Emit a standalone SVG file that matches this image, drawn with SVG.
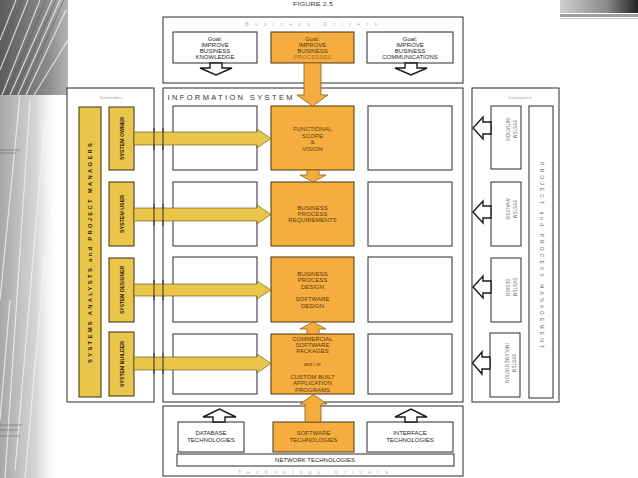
<svg xmlns="http://www.w3.org/2000/svg" width="638" height="478" viewBox="0 0 638 478">
<defs>
<style>
.frame{fill:#fff;stroke:#2a2a2a;stroke-width:1}
.line{fill:none;stroke:#2a2a2a;stroke-width:1}
.box{fill:#fff;stroke:#2a2a2a;stroke-width:1}
.orange{fill:#F6AD3F;stroke:#4a3515;stroke-width:1}
.yellow{fill:#E9C64B;stroke:#3a3010;stroke-width:1}
.hollow{fill:#fff;stroke:#1a1a1a;stroke-width:1.4;stroke-linejoin:miter}
.oarrow{fill:#F6AD3F;stroke:#8a5a15;stroke-width:0.8}
.yarrow{fill:#E9C64B;stroke:#5a4a10;stroke-width:0.6}
text{font-family:"Liberation Sans",Arial,sans-serif;text-anchor:middle}
.t{font-size:6px;fill:#262626}
.to{font-size:6px;fill:#5a3a10}
.tr{font-size:5.2px;font-weight:bold;fill:#2a2410}
.tg{font-size:4.5px;fill:#6a6a6a}
.tl{font-size:5.5px;fill:#b8b8b8}
.ts{font-size:4px;fill:#aaa}
</style>
<linearGradient id="gTop" x1="0" y1="0" x2="1" y2="0">
<stop offset="0" stop-color="#5c5c5c"/>
<stop offset="0.7" stop-color="#8a8a8a"/>
<stop offset="1" stop-color="#b5b5b5"/>
</linearGradient>
<linearGradient id="gLow" x1="0" y1="0" x2="1" y2="0">
<stop offset="0" stop-color="#a8a8a8"/>
<stop offset="0.6" stop-color="#d6d6d6"/>
<stop offset="1" stop-color="#ffffff" stop-opacity="0"/>
</linearGradient>
<linearGradient id="gTR" x1="0" y1="0" x2="1" y2="0">
<stop offset="0" stop-color="#cfcfcf"/>
<stop offset="0.6" stop-color="#8a8a8a"/>
<stop offset="1" stop-color="#222"/>
</linearGradient>
</defs>

<g id="background">
<rect x="0" y="0" width="638" height="478" fill="#fff"/>
<rect x="0" y="95" width="60" height="383" fill="url(#gLow)"/>
<rect x="0" y="0" width="68" height="95" fill="url(#gTop)"/>
<g stroke="#f2f2f2" stroke-width="1.2" opacity="0.8" fill="none">
<path d="M2 95 L40 0 M10 95 L52 0 M18 95 L60 0 M26 95 L66 10 M34 95 L68 40 M0 70 L28 0 M0 40 L16 0"/>
<path d="M5 478 L30 100 M15 470 L45 120 M0 300 L20 95 M25 478 L50 200 M0 420 L10 300"/>
</g>
<g stroke="#555" stroke-width="0.8" opacity="0.6" fill="none">
<path d="M6 95 L46 0 M14 95 L56 0 M22 95 L64 0 M0 55 L22 0"/>
<path d="M0 150 L20 150 M0 153 L16 153 M0 425 L22 425 M0 430 L18 430 M0 436 L20 436"/>
</g>
<rect x="560" y="0" width="78" height="13" fill="url(#gTR)"/>
<rect x="560" y="14" width="78" height="3" fill="#a0a0a0"/>
<rect x="560" y="18" width="78" height="1" fill="#c8c8c8"/>
</g>

<text x="313" y="6" class="t" style="font-size:5.5px;fill:#444" textLength="40" lengthAdjust="spacingAndGlyphs">FIGURE 2.5</text>

<g id="business-drivers">
<rect class="frame" x="163" y="17" width="300" height="66"/>
<text x="311" y="26" class="tl" textLength="132" lengthAdjust="spacing">Business Drivers</text>
</g>
<g id="goal-knowledge">
<rect class="box" x="173" y="32" width="84" height="31"/>
<text class="t" x="215" y="41">Goal:</text>
<text class="t" x="215" y="47">IMPROVE</text>
<text class="t" x="215" y="53">BUSINESS</text>
<text class="t" x="215" y="59">KNOWLEDGE</text>
</g>
<g id="goal-processes">
<rect class="orange" x="271" y="32" width="83" height="31"/>
<text class="to" x="312.5" y="41">Goal:</text>
<text class="to" x="312.5" y="47">IMPROVE</text>
<text class="to" x="312.5" y="53">BUSINESS</text>
<text class="to" x="312.5" y="59" style="fill:#b06a18">PROCESSES</text>
</g>
<g id="goal-communications">
<rect class="box" x="367" y="32" width="86" height="31"/>
<text class="t" x="410" y="41">Goal:</text>
<text class="t" x="410" y="47">IMPROVE</text>
<text class="t" x="410" y="53">BUSINESS</text>
<text class="t" x="410" y="59">COMMUNICATIONS</text>
</g>

<g id="stakeholders">
<rect class="frame" x="67" y="88" width="87" height="314"/>
<text x="111" y="99" class="ts">Stakeholders</text>
</g>
<g id="information-system">
<rect class="frame" x="163" y="88" width="300" height="314"/>
<text x="230" y="100" style="font-size:7.5px;fill:#333" textLength="125" lengthAdjust="spacing">INFORMATION SYSTEM</text>
</g>
<g id="development">
<rect class="frame" x="472" y="88" width="87" height="314"/>
<text x="520" y="99" class="ts">Development</text>
</g>
<g id="technology-drivers">
<rect class="frame" x="163" y="406" width="300" height="70"/>
<text x="313" y="474" class="tl" textLength="150" lengthAdjust="spacing">Technology Drivers</text>
</g>

<g id="analysts-bar">
<rect class="yellow" x="79" y="107" width="22" height="290"/>
<text class="tr" transform="translate(90,253) rotate(-90)" y="2" style="font-size:5.8px" textLength="220" lengthAdjust="spacing">SYSTEMS ANALYSTS and PROJECT MANAGERS</text>
</g>
<g id="system-owner">
<rect class="yellow" x="109" y="107" width="25" height="63"/>
<text class="tr" transform="translate(121.5,138.5) rotate(-90)" y="2" textLength="43" lengthAdjust="spacingAndGlyphs">SYSTEM OWNER</text>
</g>
<g id="system-user">
<rect class="yellow" x="109" y="182" width="25" height="64"/>
<text class="tr" transform="translate(121.5,214) rotate(-90)" y="2" textLength="38" lengthAdjust="spacingAndGlyphs">SYSTEM USER</text>
</g>
<g id="system-designer">
<rect class="yellow" x="109" y="258" width="25" height="64"/>
<text class="tr" transform="translate(121.5,290) rotate(-90)" y="2" textLength="48" lengthAdjust="spacingAndGlyphs">SYSTEM DESIGNER</text>
</g>
<g id="system-builder">
<rect class="yellow" x="109" y="332" width="25" height="64"/>
<text class="tr" transform="translate(121.5,364) rotate(-90)" y="2" textLength="46" lengthAdjust="spacingAndGlyphs">SYSTEM BUILDER</text>
</g>

<g id="blank-left">
<rect class="box" x="173" y="106" width="84" height="64"/>
<rect class="box" x="173" y="182" width="84" height="64"/>
<rect class="box" x="173" y="257" width="84" height="65"/>
<rect class="box" x="173" y="334" width="84" height="60"/>
</g>
<g id="blank-right">
<rect class="box" x="368" y="106" width="84" height="64"/>
<rect class="box" x="368" y="182" width="84" height="64"/>
<rect class="box" x="368" y="257" width="84" height="65"/>
<rect class="box" x="368" y="334" width="84" height="60"/>
</g>

<g id="functional-scope">
<rect class="orange" x="271" y="106" width="83" height="64"/>
<text class="to" x="312.5" y="131">FUNCTIONAL</text>
<text class="to" x="312.5" y="137.5">SCOPE</text>
<text class="to" x="312.5" y="144">&amp;</text>
<text class="to" x="312.5" y="150.5">VISION</text>
</g>
<g id="business-requirements">
<rect class="orange" x="271" y="182" width="83" height="64"/>
<text class="to" x="312.5" y="210">BUSINESS</text>
<text class="to" x="312.5" y="216">PROCESS</text>
<text class="to" x="312.5" y="222">REQUIREMENTS</text>
</g>
<g id="design">
<rect class="orange" x="271" y="257" width="83" height="65"/>
<text class="to" x="312.5" y="276">BUSINESS</text>
<text class="to" x="312.5" y="282">PROCESS</text>
<text class="to" x="312.5" y="289">DESIGN</text>
<text class="to" x="312.5" y="301">SOFTWARE</text>
<text class="to" x="312.5" y="308">DESIGN</text>
</g>
<g id="software-packages">
<rect class="orange" x="271" y="334" width="83" height="60"/>
<text class="to" x="312.5" y="341">COMMERCIAL</text>
<text class="to" x="312.5" y="347">SOFTWARE</text>
<text class="to" x="312.5" y="353">PACKAGES</text>
<text class="to" x="312.5" y="366" style="font-size:5px">and / or</text>
<text class="to" x="312.5" y="379">CUSTOM BUILT</text>
<text class="to" x="312.5" y="385">APPLICATION</text>
<text class="to" x="312.5" y="392">PROGRAMS</text>
</g>

<g id="management-bar">
<rect class="box" x="529" y="106" width="24" height="292"/>
<text class="tg" transform="translate(541,255) rotate(90)" y="1.5" style="font-size:5px" textLength="186" lengthAdjust="spacing">PROJECT and PROCESS MANAGEMENT</text>
</g>
<g id="system-initiation">
<rect class="box" x="491" y="106" width="30" height="63"/>
<text class="tg" transform="translate(510,129) rotate(90)" y="-3">SYSTEM</text>
<text class="tg" transform="translate(510,129) rotate(90)" y="4">INITIATION</text>
</g>
<g id="system-analysis">
<rect class="box" x="491" y="182" width="30" height="64"/>
<text class="tg" transform="translate(510,209) rotate(90)" y="-3">SYSTEM</text>
<text class="tg" transform="translate(510,209) rotate(90)" y="4">ANALYSIS</text>
</g>
<g id="system-design">
<rect class="box" x="491" y="258" width="30" height="64"/>
<text class="tg" transform="translate(510,287) rotate(90)" y="-3">SYSTEM</text>
<text class="tg" transform="translate(510,287) rotate(90)" y="4">DESIGN</text>
</g>
<g id="system-implementation">
<rect class="box" x="490" y="333" width="30" height="64"/>
<text class="tg" transform="translate(509,363) rotate(90)" y="-3">SYSTEM</text>
<text class="tg" transform="translate(509,363) rotate(90)" y="4">IMPLEMENTATION</text>
</g>

<g id="database-tech">
<rect class="box" x="178" y="422" width="66" height="30"/>
<text class="t" x="211" y="435">DATABASE</text>
<text class="t" x="211" y="442">TECHNOLOGIES</text>
</g>
<g id="software-tech">
<rect class="orange" x="273" y="422" width="81" height="30"/>
<text class="to" x="313.5" y="435">SOFTWARE</text>
<text class="to" x="313.5" y="442">TECHNOLOGIES</text>
</g>
<g id="interface-tech">
<rect class="box" x="367" y="422" width="86" height="30"/>
<text class="t" x="410" y="435">INTERFACE</text>
<text class="t" x="410" y="442">TECHNOLOGIES</text>
</g>
<g id="network-tech">
<rect class="box" x="177" y="454" width="277" height="12"/>
<text class="t" x="315" y="462">NETWORK TECHNOLOGIES</text>
</g>

<g id="connectors">
<polygon class="hollow" points="210,63 222,63 222,68 232,68 216,75 200,68 210,68"/>
<polygon class="hollow" points="405,63 417,63 417,68 427,68 411,75 395,68 405,68"/>
<polygon class="oarrow" points="304,63 321,63 321,95 328,95 312.5,106 297,95 304,95"/>
<polygon class="oarrow" points="307,170 319,170 319,175 326,175 313,182 300,175 307,175"/>
<polygon class="oarrow" points="307,334 319,334 319,329 326,329 313,322 300,329 307,329"/>
<polygon class="oarrow" points="305,422 321,422 321,404 327,404 313.5,394.5 300,404 305,404"/>
<polygon class="hollow" points="213,422 225,422 225,417 236,417 219.5,409 203,417 213,417"/>
<polygon class="hollow" points="405,422 417,422 417,417 427,417 411,409 395,417 405,417"/>
<polygon class="yarrow" points="134,132 257,132 257,129 271,138.5 257,148 257,145 134,145"/>
<polygon class="yarrow" points="134,208 257,208 257,205 271,214.5 257,224 257,221 134,221"/>
<polygon class="yarrow" points="134,284 257,284 257,281 271,290 257,299 257,296 134,296"/>
<polygon class="yarrow" points="134,357 257,357 257,354 271,363.5 257,373 257,370 134,370"/>
<path class="line" d="M154 128 V150 M163 128 V150 M154 204 V226 M163 204 V226 M154 280 V300 M163 280 V300 M154 353 V374 M163 353 V374"/>
<polygon class="hollow" points="491,122 483,122 483,117 473,128 483,139 483,134 491,134"/>
<polygon class="hollow" points="491,206 483,206 483,201 473,212 483,223 483,218 491,218"/>
<polygon class="hollow" points="491,281 483,281 483,276 473,287 483,298 483,293 491,293"/>
<polygon class="hollow" points="490,357 482,357 482,352 472.5,363 482,374 482,369 490,369"/>
</g>
</svg>
